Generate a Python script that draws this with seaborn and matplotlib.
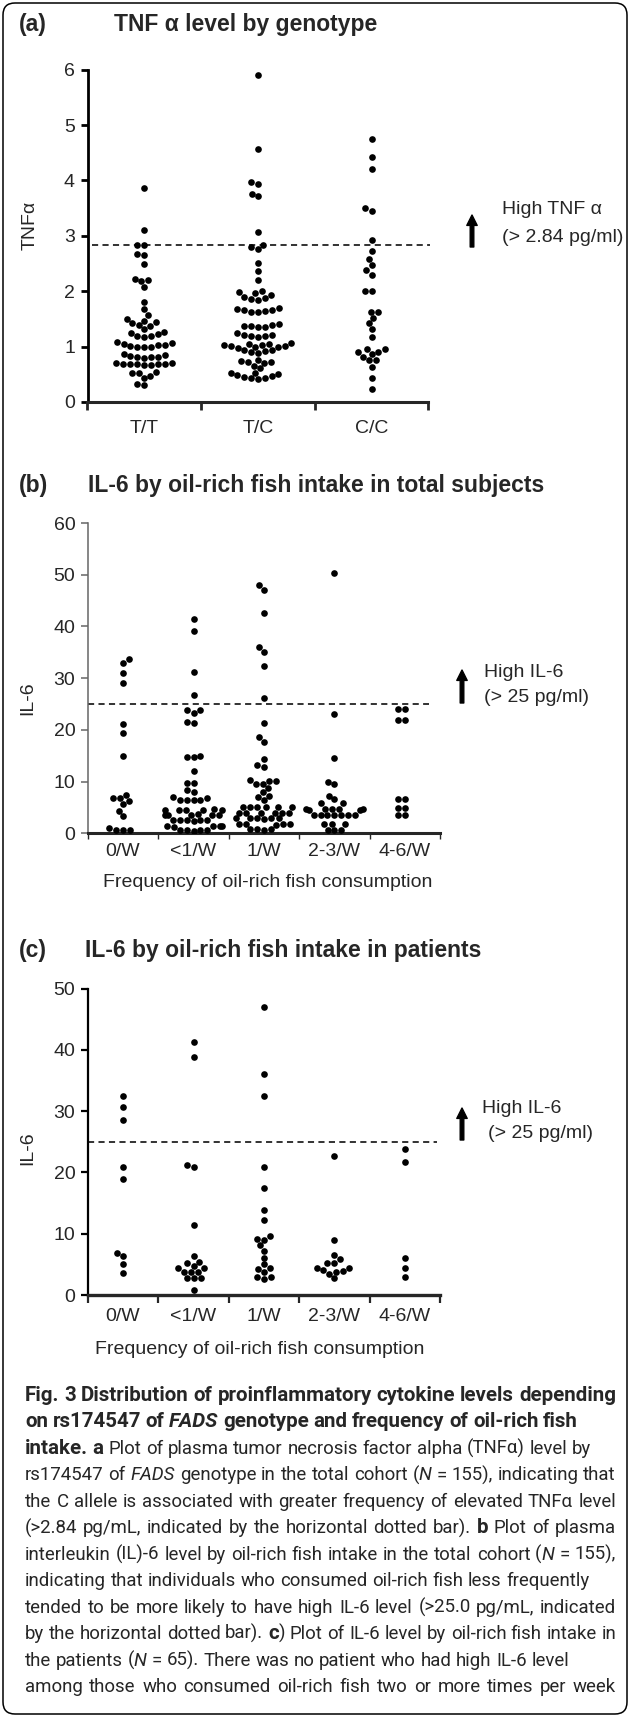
import re
import numpy as np
import pandas as pd
import matplotlib
matplotlib.use("Agg")
import matplotlib.pyplot as plt
import seaborn as sns
from matplotlib.patches import FancyBboxPatch

# ---- data ----
genotypes = ["T/T", "T/C", "C/C"]
tnf_tt = [3.86, 3.11, 2.84, 2.83, 2.67, 2.65, 2.49, 2.22, 2.20, 2.19, 2.08, 1.81, 1.68, 1.57,
          1.49, 1.47, 1.45, 1.42, 1.39, 1.38,
          1.31, 1.27, 1.24, 1.22, 1.20, 1.19, 1.18,
          1.09, 1.06, 1.04, 1.02, 1.00, 1.00, 0.99, 1.01, 1.03,
          0.86, 0.85, 0.83, 0.82, 0.82, 0.81, 0.80,
          0.70, 0.70, 0.69, 0.69, 0.68, 0.68, 0.68, 0.67, 0.67,
          0.55, 0.53, 0.52, 0.47, 0.43, 0.32, 0.31]
tnf_tc = [5.91, 4.56, 3.97, 3.94, 3.76, 3.71, 3.06, 2.84, 2.80, 2.76, 2.50, 2.36, 2.20,
          2.00, 1.98, 1.96, 1.94, 1.90, 1.88, 1.86, 1.85,
          1.69, 1.67, 1.66, 1.66, 1.64, 1.63, 1.63,
          1.40, 1.39, 1.37, 1.37, 1.35, 1.35, 1.24,
          1.21, 1.21, 1.20, 1.19, 1.18,
          1.06, 1.05, 1.04, 1.03, 1.02, 1.01, 1.01, 1.00, 0.99, 0.98,
          0.94, 0.93, 0.92, 0.90, 0.89,
          0.75, 0.74, 0.73, 0.72, 0.71, 0.65, 0.61,
          0.53, 0.52, 0.50, 0.48, 0.47, 0.45, 0.44, 0.43, 0.42]
tnf_cc = [4.75, 4.43, 4.21, 3.50, 3.45, 2.93, 2.72, 2.58, 2.47, 2.38, 2.30, 2.01, 2.00,
          1.63, 1.62, 1.51, 1.42, 1.31, 1.18,
          0.95, 0.95, 0.91, 0.90, 0.86, 0.82, 0.76, 0.75, 0.64, 0.44, 0.23]

freq = ["0/W", "<1/W", "1/W", "2-3/W", "4-6/W"]
il6_all_w0 = [33.7, 32.9, 30.9, 29.0, 21.1, 19.3, 15.0, 7.5, 6.8, 6.8, 6.3, 5.6, 4.4, 3.4,
              1.0, 0.7, 0.6, 0.6]
il6_all_lt1 = [41.4, 39.1, 31.1, 26.7, 23.8, 23.8, 23.3, 21.6, 21.3, 15.0, 14.7, 14.7, 12.1,
               9.8, 9.8, 8.4, 7.9, 7.1, 6.8, 6.5, 6.5, 6.4, 6.4,
               4.7, 4.6, 4.6, 4.6, 4.5, 4.6,
               3.6, 3.6, 3.5, 3.6, 3.7, 3.6,
               2.5, 2.5, 2.4, 2.5, 2.5, 2.6,
               1.4, 1.4, 1.3, 1.4, 1.4,
               0.6, 0.6, 0.5, 0.6, 0.6]
il6_all_w1 = [48.0, 47.1, 42.6, 36.0, 35.1, 32.4, 26.1, 21.3, 18.6, 17.7, 14.3, 13.2, 12.9,
              10.4, 10.2, 10.2, 9.6, 9.6, 8.8, 7.9, 7.3, 7.1, 6.5,
              5.1, 5.1, 5.0, 5.1, 5.1, 5.0,
              4.0, 4.0, 3.9, 4.0, 4.0, 4.0,
              2.9, 2.9, 2.8, 2.9, 2.9, 2.9,
              1.8, 1.8, 1.7, 1.8, 1.8,
              0.8, 0.8, 0.7, 0.8]
il6_all_w23 = [50.3, 23.1, 14.5, 10.0, 9.5, 7.3, 6.6, 5.8, 5.8,
               4.7, 4.7, 4.6, 4.7, 4.6, 4.7, 4.7,
               3.6, 3.5, 3.6, 3.5, 3.6, 3.5, 3.6,
               1.8, 1.8, 1.8, 0.7, 0.6, 0.7]
il6_all_w46 = [24.0, 24.0, 22.0, 22.0, 6.6, 6.6, 4.8, 4.8, 3.5, 3.5]

il6_pt_w0 = [32.5, 30.6, 28.5, 20.8, 19.0, 6.8, 6.4, 5.0, 3.6]
il6_pt_lt1 = [41.3, 38.9, 21.2, 20.9, 11.4, 6.4, 5.4, 5.2, 4.8, 4.4, 4.4, 3.8, 3.8, 3.8,
              2.8, 2.8, 2.8, 0.8]
il6_pt_w1 = [47.0, 36.0, 32.4, 20.8, 17.4, 13.8, 12.3, 9.6, 9.1, 9.0, 8.1, 7.2, 6.1, 5.0,
             4.4, 4.3, 3.8, 3.0, 3.0, 2.6]
il6_pt_w23 = [22.7, 8.9, 6.6, 5.9, 5.2, 5.2, 4.4, 4.4, 4.0, 3.9, 3.8, 3.4, 2.7]
il6_pt_w46 = [23.8, 21.7, 6.1, 4.4, 2.9]

tnf_cut = 2.84
il6_cut = 25

caption = [
    ([("Fig. 3 Distribution of proinflammatory cytokine levels depending", "b")], True),
    ([("on rs174547 of ", "b"), ("FADS", "bi"), (" genotype and frequency of oil-rich fish", "b")], False),
    ([("intake. a", "b"), (" Plot of plasma tumor necrosis factor alpha (TNFα) level by", "r")], False),
    ([("rs174547 of ", "r"), ("FADS", "i"), (" genotype in the total cohort (", "r"), ("N", "i"),
      (" = 155), indicating that", "r")], True),
    ([("the C allele is associated with greater frequency of elevated TNFα level", "r")], True),
    ([("(>2.84 pg/mL, indicated by the horizontal dotted bar). ", "r"), ("b", "b"),
      (" Plot of plasma", "r")], True),
    ([("interleukin (IL)-6 level by oil-rich fish intake in the total cohort (", "r"), ("N", "i"),
      (" = 155),", "r")], True),
    ([("indicating that individuals who consumed oil-rich fish less frequently", "r")], False),
    ([("tended to be more likely to have high IL-6 level (>25.0 pg/mL, indicated", "r")], True),
    ([("by the horizontal dotted bar). ", "r"), ("c", "b"),
      (") Plot of IL-6 level by oil-rich fish intake in", "r")], True),
    ([("the patients (", "r"), ("N", "i"), (" = 65). There was no patient who had high IL-6 level", "r")], False),
    ([("among those who consumed oil-rich fish two or more times per week", "r")], True),
]

# ---- style ----
sns.set_style("ticks")
PLOT_FONT = ["Liberation Sans", "DejaVu Sans"]
CAP_FONT = ["Roboto", "Liberation Sans", "DejaVu Sans"]
plt.rcParams["font.family"] = PLOT_FONT

W, H = 630, 1717
fig = plt.figure(figsize=(W / 100, H / 100), dpi=100)


def box(left, top, right, bottom):
    return [left / W, 1 - bottom / H, (right - left) / W, (bottom - top) / H]


def dot_panel(ax, groups, order, ylim, yticks, spine_lw, left_color, left_lw):
    df = pd.DataFrame({
        "group": np.repeat(order, [len(g) for g in groups]),
        "value": np.concatenate(groups),
    })
    sns.swarmplot(data=df, x="group", y="value", order=order, color="black",
                  size=4.8, linewidth=0, ax=ax)
    ax.set_xlim(-0.5, len(order) - 0.5)
    ax.set_ylim(*ylim)
    ax.set_yticks(yticks)
    ax.set_xticks(range(len(order)))
    ax.set_xticklabels(order)
    ax.set_xticks(np.arange(len(order) + 1) - 0.5, minor=True)
    ax.set_xlabel("")
    sns.despine(ax=ax)
    ax.spines["bottom"].set_linewidth(spine_lw)
    ax.spines["left"].set_linewidth(left_lw)
    ax.spines["left"].set_color(left_color)
    ax.tick_params(axis="y", length=5, width=left_lw, color=left_color, labelsize=14, pad=4)
    ax.tick_params(axis="x", which="major", length=0, labelsize=14)
    ax.tick_params(axis="x", which="minor", length=5, width=1.4)
    ax.set_facecolor("none")


# (a) TNF alpha by genotype
ax_a = fig.add_axes(box(87.5, 69.6, 428.5, 402))
dot_panel(ax_a, [tnf_tt, tnf_tc, tnf_cc], genotypes, (0, 6), range(0, 7), 2.2, "black", 2.0)
ax_a.tick_params(axis="x", which="major", pad=13)
ax_a.tick_params(axis="x", which="minor", length=6, width=2.0)
ax_a.axhline(tnf_cut, xmin=0.013, xmax=1.004, color="#222222", lw=1.3,
             linestyle=(0, (3.4, 2.4)), clip_on=False)
ax_a.set_ylabel("TNFα", fontsize=14, va="center")
ax_a.yaxis.set_label_coords(-0.169, 0.53)

# (b) IL-6 by fish intake, all subjects
ax_b = fig.add_axes(box(87.8, 523, 440.2, 833.3))
dot_panel(ax_b, [il6_all_w0, il6_all_lt1, il6_all_w1, il6_all_w23, il6_all_w46], freq,
          (0, 60), range(0, 61, 10), 2.2, "#666666", 1.1)
ax_b.tick_params(axis="x", which="major", pad=7)
ax_b.tick_params(axis="x", which="minor", length=4, width=1.0)
ax_b.axhline(il6_cut, xmin=0.0, xmax=0.968, color="#222222", lw=1.3,
             linestyle=(0, (3.4, 2.4)), clip_on=False)
ax_b.set_ylabel("IL-6", fontsize=14, va="center")
ax_b.yaxis.set_label_coords(-0.17, 0.436)
ax_b.set_xlabel("Frequency of oil-rich fish consumption", fontsize=14, va="center")
ax_b.xaxis.set_label_coords(0.511, -0.16)

# (c) IL-6 by fish intake, patients
ax_c = fig.add_axes(box(87.8, 988.5, 440.2, 1295))
dot_panel(ax_c, [il6_pt_w0, il6_pt_lt1, il6_pt_w1, il6_pt_w23, il6_pt_w46], freq,
          (0, 50), range(0, 51, 10), 2.4, "black", 1.6)
ax_c.tick_params(axis="x", which="major", pad=9)
ax_c.tick_params(axis="x", which="minor", length=6, width=1.6)
ax_c.axhline(il6_cut, xmin=0.0, xmax=0.99, color="#222222", lw=1.3,
             linestyle=(0, (3.4, 2.4)), clip_on=False)
ax_c.set_ylabel("IL-6", fontsize=14, va="center")
ax_c.yaxis.set_label_coords(-0.17, 0.48)
ax_c.set_xlabel("Frequency of oil-rich fish consumption", fontsize=14, va="center")
ax_c.xaxis.set_label_coords(0.489, -0.179)

# overlay in pixel units for titles, notes, frame and caption
ov = fig.add_axes([0, 0, 1, 1])
ov.set_xlim(0, W)
ov.set_ylim(H, 0)
ov.axis("off")
ov.patch.set_visible(False)

ov.add_patch(FancyBboxPatch((3, 3), W - 6, H - 6, boxstyle="round,pad=0,rounding_size=12",
                            fill=False, lw=1.1, ec="black"))

for tag, title, ty, tx in [("(a)", "TNF α level by genotype", 25, 114),
                           ("(b)", "IL-6 by oil-rich fish intake in total subjects", 485, 88),
                           ("(c)", "IL-6 by oil-rich fish intake in patients", 950, 85)]:
    ov.text(19, ty, tag, fontsize=16.5, fontweight="bold", va="center", ha="left")
    ov.text(tx, ty, title, fontsize=16.5, fontweight="bold", va="center", ha="left")

notes = [(472, 247, 215, "High TNF α", 502, 210, "(> 2.84 pg/ml)", 502, 237),
         (462, 703, 670, "High IL-6", 484, 672, "(> 25 pg/ml)", 484, 697),
         (462, 1140, 1108, "High IL-6", 482, 1108, "(> 25 pg/ml)", 488, 1133)]
for axx, y0, y1, t1, x1, ty1, t2, x2, ty2 in notes:
    ov.annotate("", xy=(axx, y1), xytext=(axx, y0),
                arrowprops=dict(arrowstyle="simple,head_width=0.75,head_length=0.75,tail_width=0.26",
                                color="black", shrinkA=0, shrinkB=0))
    ov.text(x1, ty1, t1, fontsize=14, va="center", ha="left")
    ov.text(x2, ty2, t2, fontsize=14, va="center", ha="left")

# caption, laid out word by word so mixed styles and justification work
renderer = fig.canvas.get_renderer()
STY = {"r": ("normal", "normal"), "b": ("bold", "normal"),
       "i": ("normal", "italic"), "bi": ("bold", "italic")}


def text_w(s, st, size):
    t = ov.text(0, 0, s, fontsize=size, fontweight=STY[st][0], fontstyle=STY[st][1], family=CAP_FONT)
    w = t.get_window_extent(renderer).width
    t.remove()
    return w


def tokenize(runs):
    toks, pending = [], False
    for txt, st in runs:
        for m in re.finditer(r"(\s*)(\S+)", txt):
            toks.append([m.group(2), st, bool(m.group(1)) or (pending and m.start() == 0)])
            pending = False
        pending = txt.endswith(" ")
    return toks


def line_width(toks, size, bold_size):
    space = text_w("a a", "r", size) - text_w("aa", "r", size)
    w = 0
    for t, st, s in toks:
        w += text_w(t, st, bold_size if "b" in st else size)
        if s:
            w += space
    return w


cap_left, cap_right = 25, 616
span = cap_right - cap_left
lines = [(tokenize(runs), just) for runs, just in caption]

# regular text sets the size, the bold heading gets its own size so line 1 fills
base = 10.0
reg_nat = max(line_width(toks, base, base) for toks, just in lines[2:] if just)
cap_size = min(13.5, base * span / reg_nat)
bold_nat = line_width(lines[0][0], cap_size, cap_size)
bold_size = cap_size * min(1.12, max(0.9, span / bold_nat))

baseline = 1401
for toks, just in lines:
    sizes = [bold_size if "b" in st else cap_size for _, st, _ in toks]
    widths = [text_w(t, st, sz) for (t, st, _), sz in zip(toks, sizes)]
    sp = text_w("a a", "r", cap_size) - text_w("aa", "r", cap_size)
    nsp = sum(1 for *_, s in toks if s)
    natural = sum(widths) + sp * nsp
    gap = sp
    if just and nsp:
        gap = sp + max(0, (span - natural) / nsp)
    x = cap_left
    for (t, st, s), w, sz in zip(toks, widths, sizes):
        if s:
            x += gap
        ov.text(x, baseline, t, fontsize=sz, fontweight=STY[st][0], fontstyle=STY[st][1],
                family=CAP_FONT, va="baseline", ha="left")
        x += w
    baseline += 26.45

fig.savefig("out.png", dpi=100)
